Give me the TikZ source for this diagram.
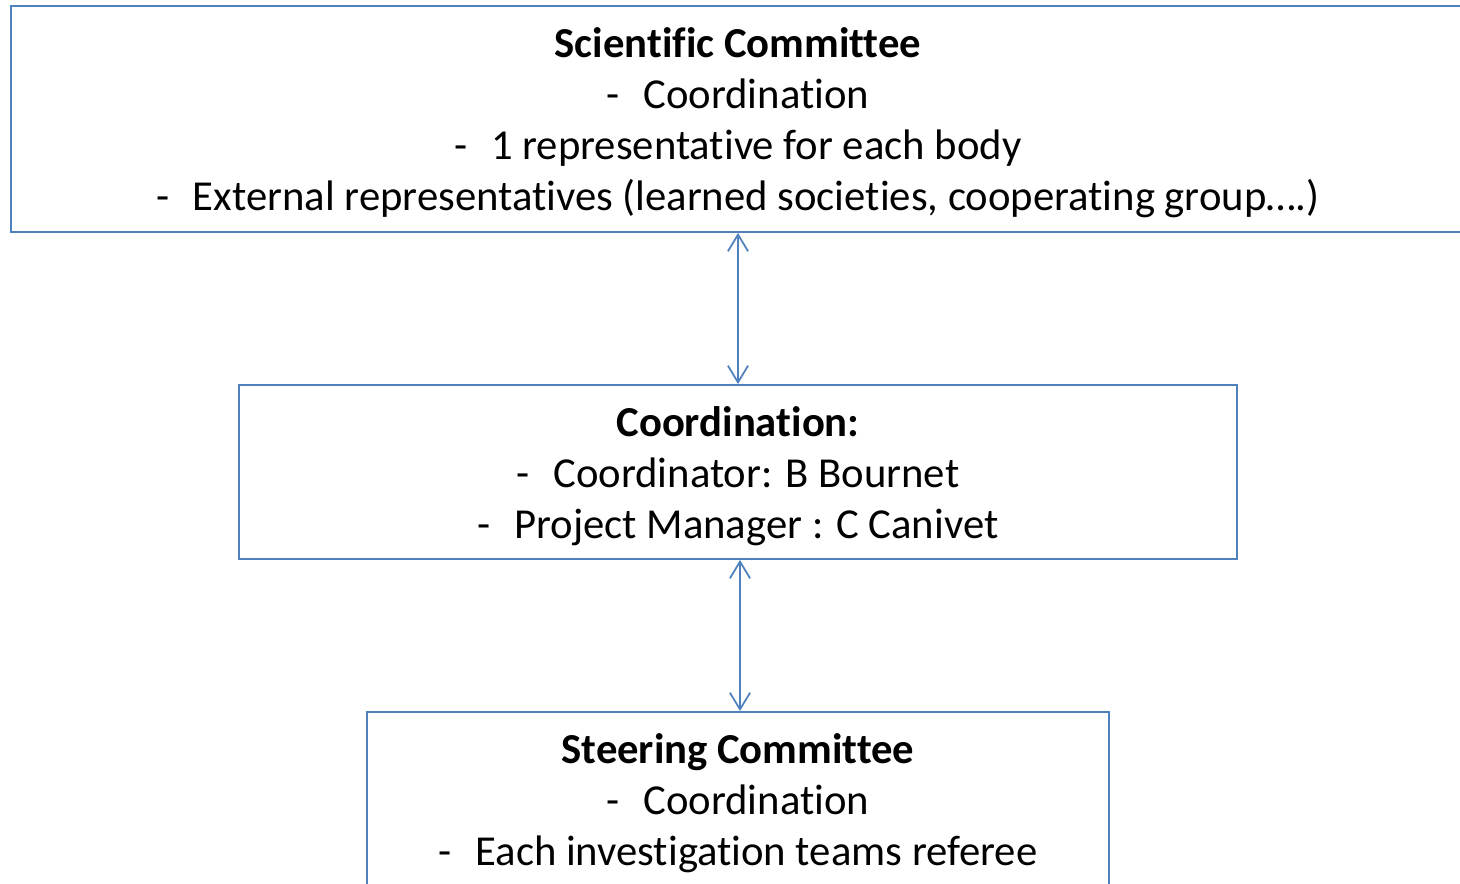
\documentclass[tikz,border=0pt]{standalone}
\usepackage{fontspec}
\setmainfont{Carlito}[Ligatures=NoCommon,RawFeature=-liga,RawFeature=-clig,RawFeature=-calt]
\usetikzlibrary{arrows.meta}
\definecolor{boxblue}{RGB}{79,129,189}
\newcommand{\boxtitle}[1]{\rule{0pt}{21.5pt}\textbf{#1}}
\newcommand{\dashitem}[1]{\makebox[0.86em][l]{-}#1}

\begin{document}
\begin{tikzpicture}[x=0.02cm,y=-0.02cm,
    box/.style={rectangle,draw=boxblue,line width=1.1pt,align=center,
      inner sep=0pt,font=\fontsize{24.3}{29}\selectfont},
    link/.style={draw=boxblue,line width=1pt,
      {Straight Barb[length=9.5pt,width=11.5pt]}-{Straight Barb[length=9.5pt,width=11.5pt]}}]
  \useasboundingbox (0,0) rectangle (1460,884);
  \clip (0,0) rectangle (1460,884);
  % the three bodies
  \node[box,minimum width=29.08cm,minimum height=4.52cm] (SciCom) at (738,119)
    {\boxtitle{Scientific Committee}\\
     \dashitem{Coordination}\\
     \dashitem{1 representative for each body}\\
     \dashitem{External representatives (learned societies, cooperating group….)}};
  \node[box,minimum width=19.96cm,minimum height=3.48cm] (Coord) at (738,472)
    {\boxtitle{Coordination:}\\
     \dashitem{Coordinator: B Bournet}\\
     \dashitem{Project Manager : C Canivet}};
  \node[box,minimum width=14.84cm,minimum height=3.48cm] (SteCom) at (738,799)
    {\boxtitle{Steering Committee}\\
     \dashitem{Coordination}\\
     \dashitem{Each investigation teams referee}};
  % links
  \draw[link] (SciCom.south) -- (Coord.north);
  \draw[link] ([xshift=0.04cm]Coord.south) -- ([xshift=0.04cm]SteCom.north);
\end{tikzpicture}
\end{document}
